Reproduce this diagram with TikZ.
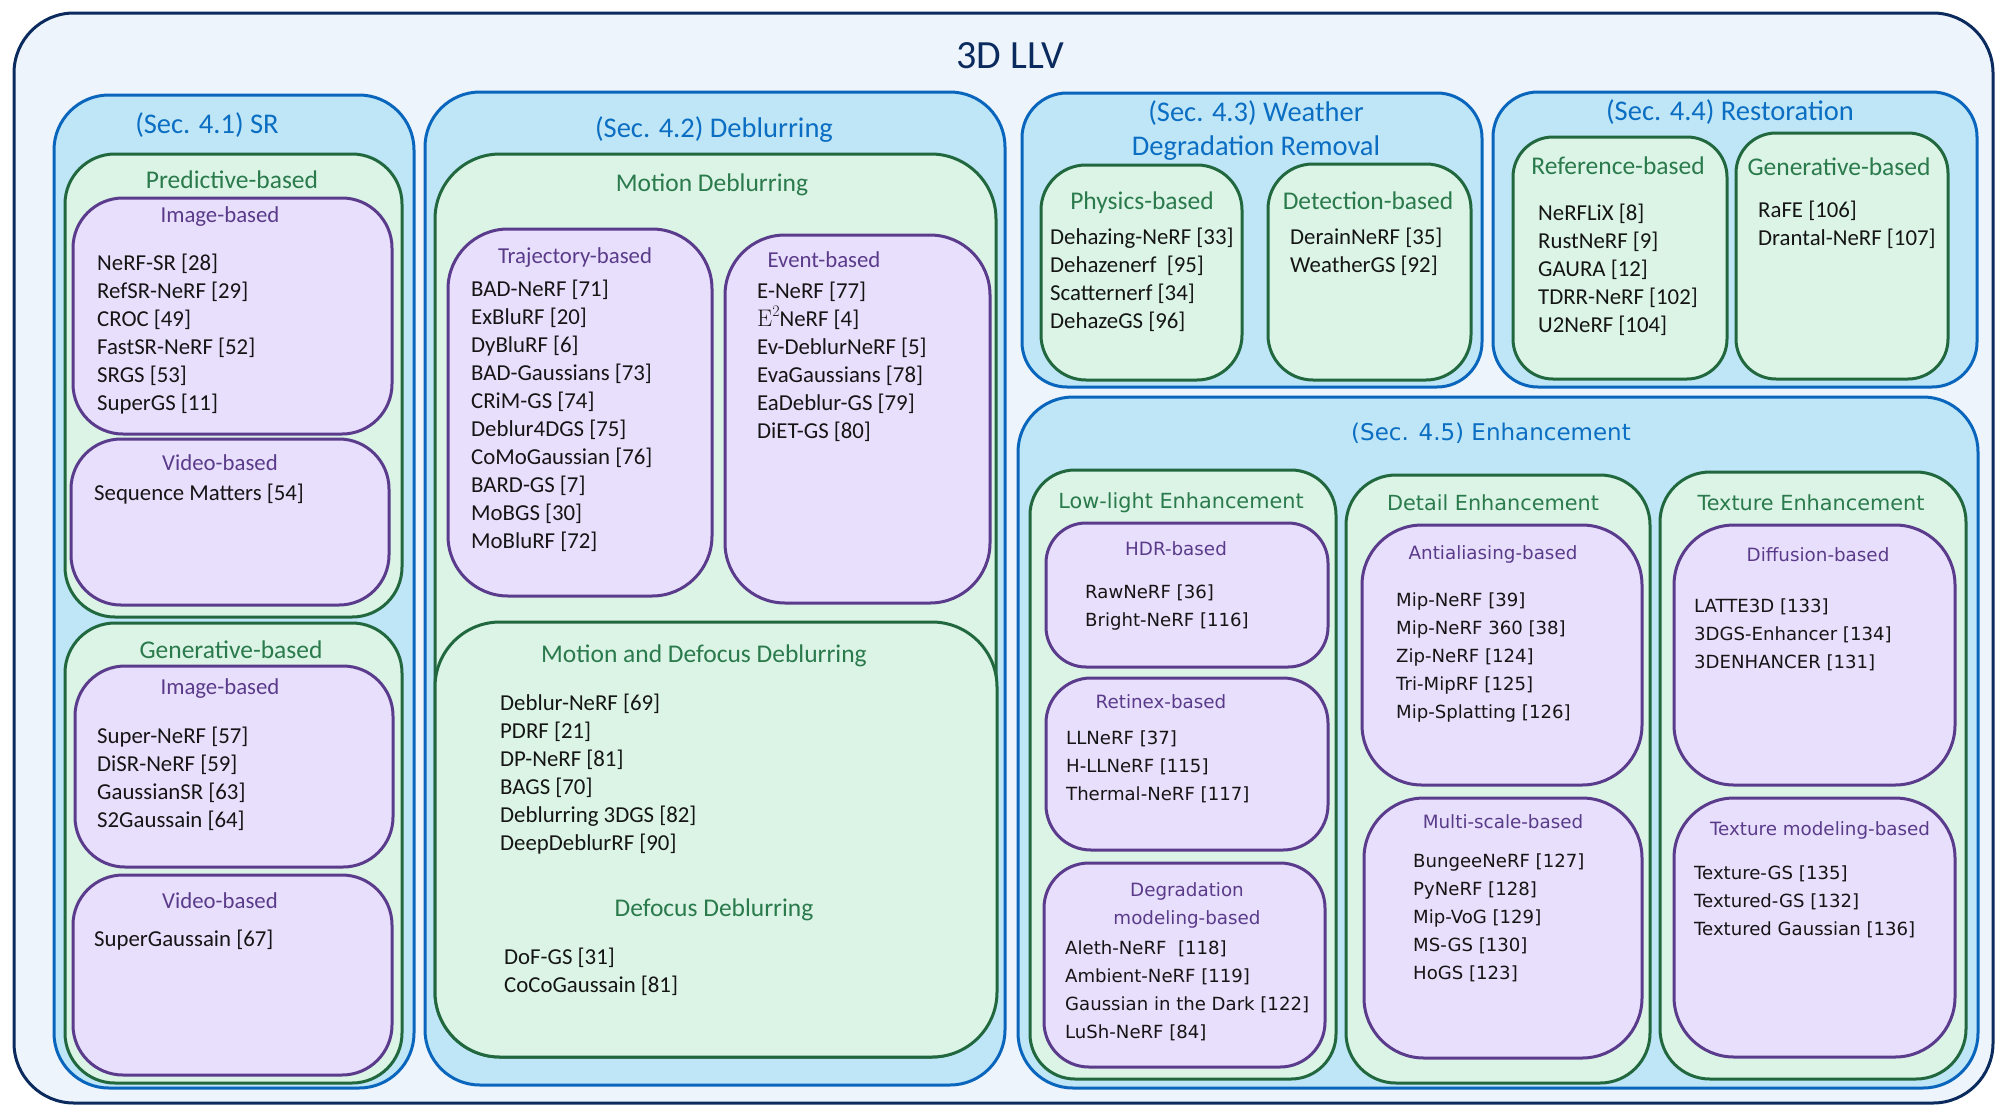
\documentclass[tikz,border=0pt]{standalone}
\usepackage{fontspec}
\setmainfont{Carlito}
\newfontfamily\dvs{DejaVu Sans}
\newfontfamily\lmr{Latin Modern Roman}
\definecolor{navy}{HTML}{0B2A5E}
\definecolor{outerfill}{HTML}{EDF4FB}
\definecolor{secdraw}{HTML}{0A66BD}
\definecolor{secfill}{HTML}{BEE6F7}
\definecolor{sectext}{HTML}{0B6EC2}
\definecolor{grndraw}{HTML}{22683F}
\definecolor{grnfill}{HTML}{DBF4E6}
\definecolor{grntext}{HTML}{2A7A4C}
\definecolor{purdraw}{HTML}{5A3B8C}
\definecolor{purfill}{HTML}{E8DFFC}
\definecolor{purtext}{HTML}{5A3B8A}
\definecolor{itemtext}{HTML}{151515}
\begin{document}
\begin{tikzpicture}[x=1pt,y=-1pt,
  outerbox/.style={draw=navy, fill=outerfill, line width=3pt, rounded corners=60pt},
  secbox/.style={draw=secdraw, fill=secfill, line width=3pt, rounded corners=55pt},
  grnbox/.style={draw=grndraw, fill=grnfill, line width=3pt, rounded corners=50pt},
  purbox/.style={draw=purdraw, fill=purfill, line width=3pt, rounded corners=50pt},
  maintitle/.style={text=navy, font=\fontsize{40}{48}\selectfont, inner sep=0pt},
  sectitle/.style={text=sectext, font=\fontsize{28.5}{34}\selectfont, inner sep=0pt, align=center},
  grntitle/.style={text=grntext, font=\fontsize{25.5}{30}\selectfont, inner sep=0pt},
  purtitle/.style={text=purtext, font=\fontsize{22.8}{28}\selectfont, inner sep=0pt},
  items/.style={text=itemtext, font=\fontsize{22.8}{28}\selectfont, inner sep=0pt, align=left, anchor=west},
  esectitle/.style={text=sectext, font=\dvs\fontsize{23}{28}\selectfont, inner sep=0pt},
  egrntitle/.style={text=grntext, font=\dvs\fontsize{20.8}{26}\selectfont, inner sep=0pt},
  epurtitle/.style={text=purtext, font=\dvs\fontsize{18.3}{28}\selectfont, inner sep=0pt, align=center},
  eitems/.style={text=itemtext, font=\dvs\fontsize{18.1}{28}\selectfont, inner sep=0pt, align=left, anchor=west}
]
\useasboundingbox (0,0) rectangle (2002,1112);

% outer frame
\draw[outerbox] (14,13) rectangle (1993,1103);
\node[maintitle] (title) at (1010,56) {3D LLV};

% ---------- Sec 4.1 SR ----------
\draw[secbox] (54,95) rectangle (414,1088);
\node[sectitle] (srT) at (207,125) {(Sec. 4.1) SR};
\draw[grnbox] (65,154) rectangle (402,617);
\node[grntitle] (predT) at (232,180) {Predictive-based};
\draw[purbox] (73,198) rectangle (392,434);
\node[purtitle] (pimgT) at (220,217) {Image-based};
\node[items] (pimgL) at (97,334) {NeRF-SR [28]\\RefSR-NeRF [29]\\CROC [49]\\FastSR-NeRF [52]\\SRGS [53]\\SuperGS [11]};
\draw[purbox] (71,439) rectangle (389,605);
\node[purtitle] (pvidT) at (220,463) {Video-based};
\node[items] (pvidL) at (94,494) {Sequence Matters [54]};
\draw[grnbox] (65,623) rectangle (402,1083);
\node[grntitle] (genT) at (231,650) {Generative-based};
\draw[purbox] (75,666) rectangle (393,867);
\node[purtitle] (gimgT) at (220,689) {Image-based};
\node[items] (gimgL) at (97,779) {Super-NeRF [57]\\DiSR-NeRF [59]\\GaussianSR [63]\\S2Gaussain [64]};
\draw[purbox] (73,875) rectangle (392,1075);
\node[purtitle] (gvidT) at (220,901) {Video-based};
\node[items] (gvidL) at (94,940) {SuperGaussain [67]};

% ---------- Sec 4.2 Deblurring ----------
\draw[secbox] (425,92) rectangle (1005,1085);
\node[sectitle] (dbT) at (714,130) {(Sec. 4.2) Deblurring};
\draw[grnbox, rounded corners=65pt] (435,154) rectangle (996,1057);
\node[grntitle] (motT) at (712,185) {Motion Deblurring};
\draw[purbox, rounded corners=60pt] (448,229) rectangle (712,596);
\node[purtitle] (trajT) at (575,258) {Trajectory-based};
\node[items] (trajL) at (471,416) {BAD-NeRF [71]\\ExBluRF [20]\\DyBluRF [6]\\BAD-Gaussians [73]\\CRiM-GS [74]\\Deblur4DGS [75]\\CoMoGaussian [76]\\BARD-GS [7]\\MoBGS [30]\\MoBluRF [72]};
\draw[purbox, rounded corners=60pt] (725,235) rectangle (990,603);
\node[purtitle] (evT) at (824,260) {Event-based};
\node[items] (evL) at (757,362) {E-NeRF [77]\\{\lmr\fontsize{24}{28}\selectfont E\raisebox{0.42em}{\fontsize{16}{16}\selectfont 2}}NeRF [4]\\Ev-DeblurNeRF [5]\\EvaGaussians [78]\\EaDeblur-GS [79]\\DiET-GS [80]};
\draw[grnbox, rounded corners=65pt] (435,622) rectangle (997,1057);
\node[grntitle] (mdT) at (704,656) {Motion and Defocus Deblurring};
\node[items] (mdL) at (500,774) {Deblur-NeRF [69]\\PDRF [21]\\DP-NeRF [81]\\BAGS [70]\\Deblurring 3DGS [82]\\DeepDeblurRF [90]};
\node[grntitle] (dfT) at (714,910) {Defocus Deblurring};
\node[items] (dfL) at (504,972) {DoF-GS [31]\\CoCoGaussain [81]};

% ---------- Sec 4.3 Weather ----------
\draw[secbox, rounded corners=45pt] (1022,93) rectangle (1482,387);
\node[sectitle] (wT) at (1256,131) {(Sec. 4.3) Weather\\Degradation Removal};
\draw[grnbox, rounded corners=45pt] (1041,165) rectangle (1242,380);
\node[grntitle] (phT) at (1142,203) {Physics-based};
\node[items] (phL) at (1050,280) {Dehazing-NeRF [33]\\Dehazenerf\ \ [95]\\Scatternerf [34]\\DehazeGS [96]};
\draw[grnbox, rounded corners=45pt] (1268,164) rectangle (1471,380);
\node[grntitle] (detT) at (1368,201) {Detection-based};
\node[items] (detL) at (1290,252) {DerainNeRF [35]\\WeatherGS [92]};

% ---------- Sec 4.4 Restoration ----------
\draw[secbox, rounded corners=45pt] (1493,92) rectangle (1977,387);
\node[sectitle] (rsT) at (1730,112) {(Sec. 4.4) Restoration};
\draw[grnbox, rounded corners=40pt] (1513,137) rectangle (1727,379);
\node[grntitle] (refT) at (1618,166) {Reference-based};
\node[items] (refL) at (1538,270) {NeRFLiX [8]\\RustNeRF [9]\\GAURA [12]\\TDRR-NeRF [102]\\U2NeRF [104]};
\draw[grnbox, rounded corners=40pt] (1736,133) rectangle (1948,379);
\node[grntitle] (rgenT) at (1839,167) {Generative-based};
\node[items] (rgenL) at (1758,225) {RaFE [106]\\Drantal-NeRF [107]};

% ---------- Sec 4.5 Enhancement ----------
\draw[secbox] (1018,397) rectangle (1978,1088);
\node[esectitle] (enT) at (1491,433) {(Sec. 4.5) Enhancement};
% Low-light
\draw[grnbox, rounded corners=45pt] (1030,470) rectangle (1336,1079);
\node[egrntitle] (llT) at (1181,503) {Low-light Enhancement};
\draw[purbox, rounded corners=40pt] (1046,523) rectangle (1328,667);
\node[epurtitle] (hdrT) at (1176,549) {HDR-based};
\node[eitems] (hdrL) at (1085,607) {RawNeRF [36]\\Bright-NeRF [116]};
\draw[purbox, rounded corners=45pt] (1046,678) rectangle (1328,850);
\node[epurtitle] (retT) at (1161,702) {Retinex-based};
\node[eitems] (retL) at (1066,767) {LLNeRF [37]\\H-LLNeRF [115]\\Thermal-NeRF [117]};
\draw[purbox, rounded corners=45pt] (1044,863) rectangle (1325,1067);
\node[epurtitle] (degT) at (1187,905) {Degradation\\modeling-based};
\node[eitems] (degL) at (1065,991) {Aleth-NeRF\ \ [118]\\Ambient-NeRF [119]\\Gaussian in the Dark [122]\\LuSh-NeRF [84]};
% Detail
\draw[grnbox, rounded corners=50pt] (1346,475) rectangle (1650,1083);
\node[egrntitle] (dtT) at (1493,503) {Detail Enhancement};
\draw[purbox, rounded corners=60pt] (1362,525) rectangle (1642,785);
\node[epurtitle] (aaT) at (1493,554) {Antialiasing-based};
\node[eitems] (aaL) at (1396,657) {Mip-NeRF [39]\\Mip-NeRF 360 [38]\\Zip-NeRF [124]\\Tri-MipRF [125]\\Mip-Splatting [126]};
\draw[purbox, rounded corners=60pt] (1364,798) rectangle (1642,1058);
\node[epurtitle] (msT) at (1503,822) {Multi-scale-based};
\node[eitems] (msL) at (1413,918) {BungeeNeRF [127]\\PyNeRF [128]\\Mip-VoG [129]\\MS-GS [130]\\HoGS [123]};
% Texture
\draw[grnbox, rounded corners=50pt] (1660,472) rectangle (1966,1079);
\node[egrntitle] (txT) at (1811,503) {Texture Enhancement};
\draw[purbox, rounded corners=60pt] (1674,525) rectangle (1955,785);
\node[epurtitle] (dfsT) at (1818,555) {Diffusion-based};
\node[eitems] (dfsL) at (1694,635) {LATTE3D [133]\\3DGS-Enhancer [134]\\3DENHANCER [131]};
\draw[purbox, rounded corners=60pt] (1674,798) rectangle (1955,1057);
\node[epurtitle] (tmT) at (1820,830) {Texture modeling-based};
\node[eitems] (tmL) at (1694,902) {Texture-GS [135]\\Textured-GS [132]\\Textured Gaussian [136]};
\end{tikzpicture}
\end{document}
